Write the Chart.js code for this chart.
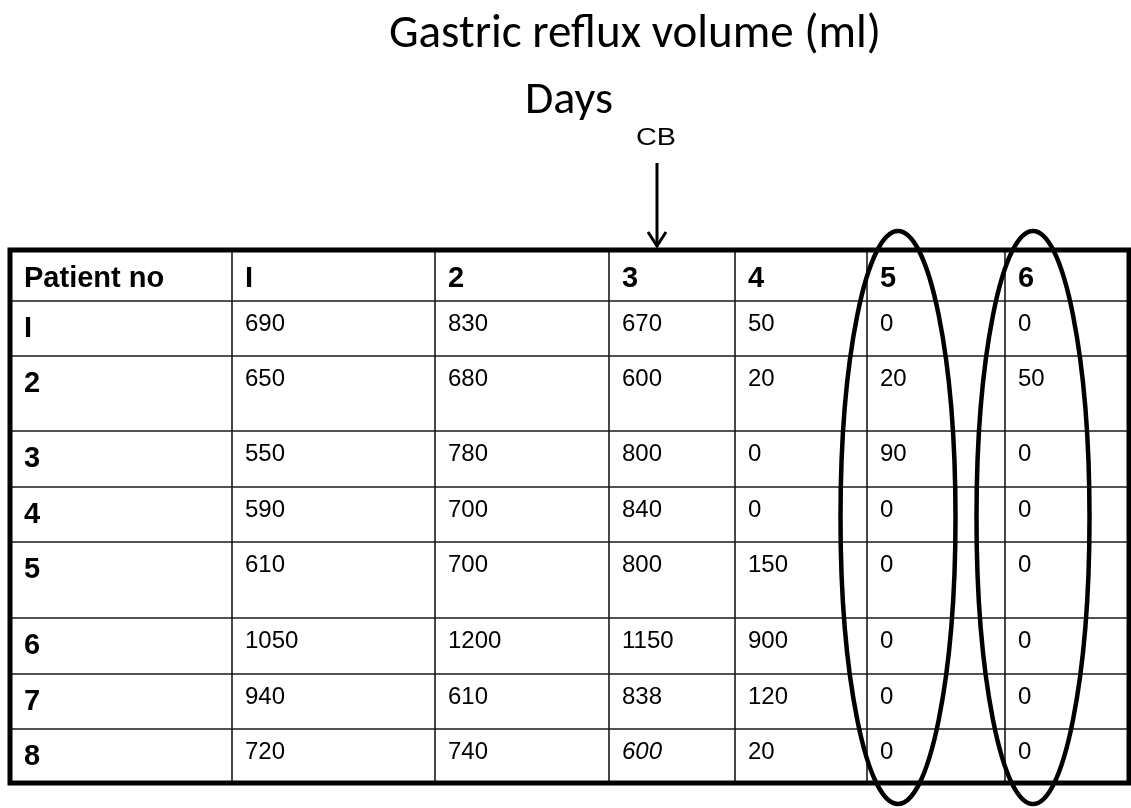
<!DOCTYPE html>
<html>
<head>
<meta charset="utf-8">
<script src="https://cdn.jsdelivr.net/npm/chart.js@4.4.0/dist/chart.umd.min.js"></script>
<style>
  html, body { margin: 0; padding: 0; background: #fff; }
  .chart-wrap { width: 1131px; height: 808px; position: relative; }
</style>
</head>
<body>
<div class="chart-wrap"><canvas id="refluxChart"></canvas></div>
<script>
var titleText = 'Gastric reflux volume (ml)';
var daysText = 'Days';
var markerText = 'CB';
var headerLabel = 'Patient no';
var days = ['I', '2', '3', '4', '5', '6'];
var patients = ['I', '2', '3', '4', '5', '6', '7', '8'];
var day1 = [690, 650, 550, 590, 610, 1050, 940, 720];
var day2 = [830, 680, 780, 700, 700, 1200, 610, 740];
var day3 = [670, 600, 800, 840, 800, 1150, 838, 600];
var day4 = [50, 20, 0, 0, 150, 900, 120, 20];
var day5 = [0, 20, 90, 0, 0, 0, 0, 0];
var day6 = [0, 50, 0, 0, 0, 0, 0, 0];
var dayValues = [day1, day2, day3, day4, day5, day6];
// the one value printed in italics: day 3, patient 8
var italicCell = { day: 2, patient: 7 };

// table layout (canvas units)
var colEdges = [10, 232, 435, 609, 735, 867, 1005, 1129];
var rowEdges = [250, 301, 356, 431, 487, 542, 618, 674, 729, 783];
var textPadX = 13;
var labelPadX = 14;

var BODY_FONT = '24px "Liberation Sans", Arial, sans-serif';
var BOLD_FONT = 'bold 29px "Liberation Sans", Arial, sans-serif';
var TITLE_FAMILY = 'Carlito, Calibri, Lato, sans-serif';

function cellPoints(values, col) {
  return values.map(function(v, i) {
    return { x: colEdges[col] + textPadX, y: rowEdges[i + 1] + 30, v: v, italic: (col - 1 === italicCell.day && i === italicCell.patient) };
  });
}

var datasets = [];
// header row: "Patient no" + day numbers
var headerPts = [{ x: colEdges[0] + labelPadX, y: rowEdges[0] + 37, v: headerLabel }];
days.forEach(function(d, i) {
  headerPts.push({ x: colEdges[i + 1] + textPadX, y: rowEdges[0] + 37, v: d });
});
datasets.push({ label: 'header', data: headerPts, bold: true, pointRadius: 0 });
// patient numbers
datasets.push({
  label: 'patients',
  data: patients.map(function(p, i) { return { x: colEdges[0] + labelPadX, y: rowEdges[i + 1] + 36, v: p }; }),
  bold: true, pointRadius: 0
});
dayValues.forEach(function(vals, d) {
  datasets.push({ label: 'Day ' + days[d], data: cellPoints(vals, d + 1), bold: false, pointRadius: 0 });
});

var tablePlugin = {
  id: 'tableDraw',
  beforeDatasetsDraw: function(chart) {
    var ctx = chart.ctx;
    var xs = chart.scales.x, ys = chart.scales.y;
    var X = function(v) { return xs.getPixelForValue(v); };
    var Y = function(v) { return ys.getPixelForValue(v); };
    ctx.save();
    // thin inner grid
    ctx.strokeStyle = '#1a1a1a';
    ctx.lineWidth = 1.6;
    ctx.beginPath();
    for (var c = 1; c < colEdges.length - 1; c++) {
      ctx.moveTo(X(colEdges[c]), Y(rowEdges[0]));
      ctx.lineTo(X(colEdges[c]), Y(rowEdges[rowEdges.length - 1]));
    }
    for (var r = 1; r < rowEdges.length - 1; r++) {
      ctx.moveTo(X(colEdges[0]), Y(rowEdges[r]));
      ctx.lineTo(X(colEdges[colEdges.length - 1]), Y(rowEdges[r]));
    }
    ctx.stroke();
    // heavy outer frame
    ctx.strokeStyle = '#000';
    ctx.lineWidth = 5;
    ctx.strokeRect(X(colEdges[0]), Y(rowEdges[0]),
      X(colEdges[colEdges.length - 1]) - X(colEdges[0]),
      Y(rowEdges[rowEdges.length - 1]) - Y(rowEdges[0]));

    // titles
    ctx.fillStyle = '#000';
    ctx.textAlign = 'center';
    ctx.textBaseline = 'alphabetic';
    ctx.font = '47px ' + TITLE_FAMILY;
    ctx.fillText(titleText, X(635), Y(47));
    ctx.font = '46px ' + TITLE_FAMILY;
    ctx.fillText(daysText, X(569), Y(113));
    // CB label is a little wide in the source
    ctx.font = '24px "Liberation Sans", Arial, sans-serif';
    ctx.save();
    ctx.translate(X(656), Y(145));
    ctx.scale(1.2, 1);
    ctx.fillText(markerText, 0, 0);
    ctx.restore();

    // CB arrow
    ctx.lineWidth = 3;
    ctx.lineCap = 'butt';
    ctx.beginPath();
    ctx.moveTo(X(657), Y(163));
    ctx.lineTo(X(657), Y(246));
    ctx.stroke();
    ctx.beginPath();
    ctx.moveTo(X(648), Y(232));
    ctx.lineTo(X(657), Y(246));
    ctx.lineTo(X(666), Y(232));
    ctx.stroke();
    ctx.restore();
  },
  afterDatasetsDraw: function(chart) {
    var ctx = chart.ctx;
    ctx.save();
    ctx.fillStyle = '#000';
    ctx.textAlign = 'left';
    ctx.textBaseline = 'alphabetic';
    chart.data.datasets.forEach(function(ds, di) {
      var meta = chart.getDatasetMeta(di);
      meta.data.forEach(function(el, i) {
        var pt = ds.data[i];
        if (ds.bold) ctx.font = BOLD_FONT;
        else ctx.font = (pt.italic ? 'italic ' : '') + BODY_FONT;
        ctx.fillText(String(pt.v), el.x, el.y);
      });
    });

    // circled days 5 and 6
    var xs = chart.scales.x, ys = chart.scales.y;
    ctx.strokeStyle = '#000';
    ctx.lineWidth = 4.5;
    [[898, 57.5], [1033, 56.5]].forEach(function(e) {
      var cx = xs.getPixelForValue(e[0]);
      var rx = xs.getPixelForValue(e[0] + e[1]) - cx;
      var cy = ys.getPixelForValue(517.5);
      var ry = ys.getPixelForValue(517.5 + 286.5) - cy;
      ctx.beginPath();
      ctx.ellipse(cx, cy, Math.abs(rx), Math.abs(ry), 0, 0, Math.PI * 2);
      ctx.stroke();
    });
    ctx.restore();
  }
};

new Chart(document.getElementById('refluxChart'), {
  type: 'scatter',
  data: { datasets: datasets },
  options: {
    responsive: true,
    maintainAspectRatio: false,
    animation: false,
    events: [],
    layout: { padding: 0 },
    plugins: { legend: { display: false }, tooltip: { enabled: false }, title: { display: false } },
    scales: {
      x: { type: 'linear', min: 0, max: 1131, display: false },
      y: { type: 'linear', min: 0, max: 808, reverse: true, display: false }
    }
  },
  plugins: [tablePlugin]
});
</script>
</body>
</html>
